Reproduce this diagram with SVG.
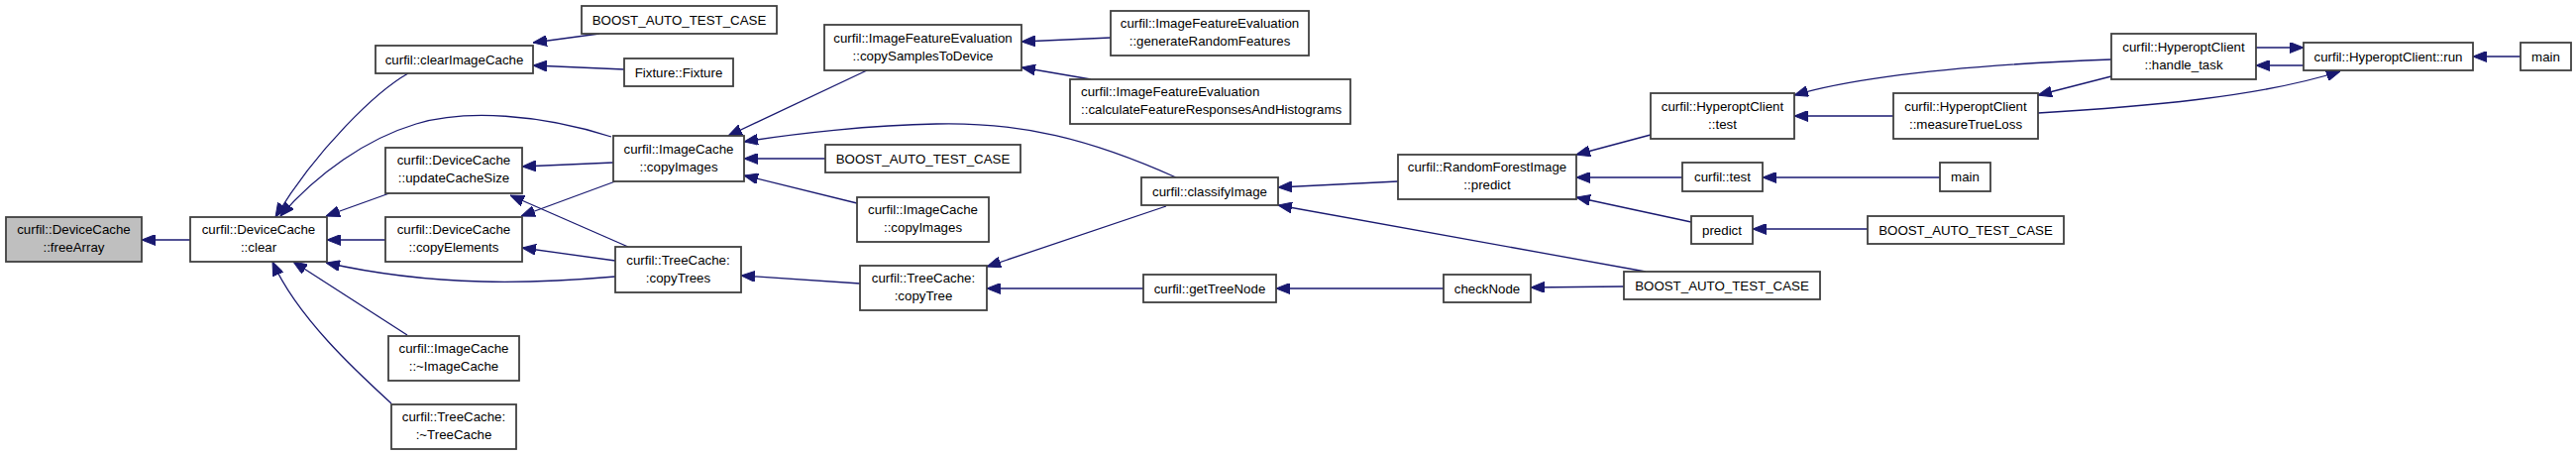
<svg xmlns="http://www.w3.org/2000/svg" width="2600" height="459" viewBox="0 0 2600 459">
<style>
.n rect{fill:#fff;stroke:#404040;stroke-width:1.8}
.n text{font-family:"Liberation Sans",Arial,sans-serif;font-size:13.3px;fill:#000;text-anchor:middle}
.n text.l{text-anchor:start}
.root rect{fill:#bfbfbf}
#edges path{fill:none;stroke:#191970;stroke-width:1.3;marker-end:url(#ah)}
</style>
<defs>
<marker id="ah" viewBox="0 0 14 11" refX="14" refY="5.5" markerWidth="14" markerHeight="11" markerUnits="userSpaceOnUse" orient="auto">
<path d="M0,0 L14,5.5 L0,11 z" fill="#191970" stroke="#191970" stroke-width="1"/>
</marker>
</defs>
<rect width="2600" height="459" fill="#fff"/>
<g id="edges">
<path d="M192,242 L143,242"/>
<path d="M412,74 C380,92 320,150 278,219"/>
<path d="M605,34 L538,43"/>
<path d="M630,70 L538,66"/>
<path d="M617,138 C545,115 470,110 420,125 C370,140 320,175 283,218"/>
<path d="M393,195 L329,218"/>
<path d="M389,242 L330,242"/>
<path d="M621,279 C540,286 440,290 329,265"/>
<path d="M411,338 L296,264"/>
<path d="M395,407 C360,375 300,320 275,264"/>
<path d="M619,164 L527,168"/>
<path d="M634,249 L515,197"/>
<path d="M621,183 L526,218"/>
<path d="M621,263 L527,250"/>
<path d="M875,71 L735,137"/>
<path d="M833,160 L751,160"/>
<path d="M865,205 L751,177"/>
<path d="M1187,179 C1100,140 1030,123 945,125 C880,126 800,135 751,143"/>
<path d="M868,286 L748,278"/>
<path d="M1121,38 L1031,42"/>
<path d="M1101,80 L1031,68"/>
<path d="M1177,208 L996,269"/>
<path d="M1154,291 L996,291"/>
<path d="M1411,183 L1290,189"/>
<path d="M1661,274 L1290,207"/>
<path d="M1457,291 L1288,291"/>
<path d="M1666,136 L1591,156"/>
<path d="M1698,179 L1591,179"/>
<path d="M1707,224 L1591,199"/>
<path d="M1639,289 L1545,290"/>
<path d="M1911,117 L1811,117"/>
<path d="M1958,179 L1779,179"/>
<path d="M1885,231 L1769,231"/>
<path d="M2131,60 C2050,63 1900,70 1811,96"/>
<path d="M2131,77 L2057,96"/>
<path d="M2057,114 C2160,108 2280,98 2362,72"/>
<path d="M2277,48 L2325,48"/>
<path d="M2325,66 L2277,66"/>
<path d="M2544,57 L2496,57"/>
</g>
<g id="n0" class="n root"><rect x="6" y="219" width="137" height="45"/><text x="74.5" y="236">curfil::DeviceCache</text><text x="74.5" y="254">::freeArray</text></g>
<g id="n1" class="n"><rect x="192" y="219" width="138" height="45"/><text x="261" y="236">curfil::DeviceCache</text><text x="261" y="254">::clear</text></g>
<g id="n2" class="n"><rect x="379" y="46" width="159" height="28"/><text x="458.5" y="65">curfil::clearImageCache</text></g>
<g id="n3" class="n"><rect x="587" y="6" width="197" height="28"/><text x="685.5" y="25">BOOST_AUTO_TEST_CASE</text></g>
<g id="n4" class="n"><rect x="630" y="59" width="110" height="28"/><text x="685" y="78">Fixture::Fixture</text></g>
<g id="n5" class="n"><rect x="389" y="149" width="138" height="46"/><text x="458" y="166">curfil::DeviceCache</text><text x="458" y="184">::updateCacheSize</text></g>
<g id="n6" class="n"><rect x="389" y="219" width="138" height="45"/><text x="458" y="236">curfil::DeviceCache</text><text x="458" y="254">::copyElements</text></g>
<g id="n7" class="n"><rect x="619" y="137" width="132" height="46"/><text x="685" y="155">curfil::ImageCache</text><text x="685" y="173">::copyImages</text></g>
<g id="n8" class="n"><rect x="621" y="249" width="127" height="46"/><text x="684.5" y="267">curfil::TreeCache:</text><text x="684.5" y="285">:copyTrees</text></g>
<g id="n9" class="n"><rect x="392" y="339" width="132" height="45"/><text x="458" y="356">curfil::ImageCache</text><text x="458" y="374">::~ImageCache</text></g>
<g id="n10" class="n"><rect x="395" y="408" width="126" height="45"/><text x="458" y="425">curfil::TreeCache:</text><text x="458" y="443">:~TreeCache</text></g>
<g id="n11" class="n"><rect x="832" y="25" width="199" height="46"/><text x="931.5" y="43">curfil::ImageFeatureEvaluation</text><text x="931.5" y="61">::copySamplesToDevice</text></g>
<g id="n12" class="n"><rect x="833" y="146" width="197" height="28"/><text x="931.5" y="165">BOOST_AUTO_TEST_CASE</text></g>
<g id="n13" class="n"><rect x="865" y="199" width="133" height="45"/><text x="931.5" y="216">curfil::ImageCache</text><text x="931.5" y="234">::copyImages</text></g>
<g id="n14" class="n"><rect x="868" y="268" width="128" height="45"/><text x="932" y="285">curfil::TreeCache:</text><text x="932" y="303">:copyTree</text></g>
<g id="n15" class="n"><rect x="1121" y="11" width="200" height="45"/><text x="1221" y="28">curfil::ImageFeatureEvaluation</text><text x="1221" y="46">::generateRandomFeatures</text></g>
<g id="n16" class="n"><rect x="1080" y="80" width="283" height="45"/><text class="l" x="1091" y="97">curfil::ImageFeatureEvaluation</text><text class="l" x="1091" y="115">::calculateFeatureResponsesAndHistograms</text></g>
<g id="n17" class="n"><rect x="1152" y="179" width="138" height="28"/><text x="1221" y="198">curfil::classifyImage</text></g>
<g id="n18" class="n"><rect x="1154" y="277" width="134" height="28"/><text x="1221" y="296">curfil::getTreeNode</text></g>
<g id="n19" class="n"><rect x="1411" y="156" width="180" height="45"/><text x="1501" y="173">curfil::RandomForestImage</text><text x="1501" y="191">::predict</text></g>
<g id="n20" class="n"><rect x="1666" y="94" width="145" height="46"/><text x="1738.5" y="112">curfil::HyperoptClient</text><text x="1738.5" y="130">::test</text></g>
<g id="n21" class="n"><rect x="1698" y="164" width="81" height="29"/><text x="1738.5" y="183">curfil::test</text></g>
<g id="n22" class="n"><rect x="1707" y="218" width="62" height="28"/><text x="1738" y="237">predict</text></g>
<g id="n23" class="n"><rect x="1457" y="277" width="88" height="28"/><text x="1501" y="296">checkNode</text></g>
<g id="n24" class="n"><rect x="1639" y="274" width="198" height="28"/><text x="1738" y="293">BOOST_AUTO_TEST_CASE</text></g>
<g id="n25" class="n"><rect x="1911" y="94" width="146" height="46"/><text x="1984" y="112">curfil::HyperoptClient</text><text x="1984" y="130">::measureTrueLoss</text></g>
<g id="n26" class="n"><rect x="1958" y="164" width="51" height="29"/><text x="1983.5" y="183">main</text></g>
<g id="n27" class="n"><rect x="1885" y="218" width="198" height="28"/><text x="1984" y="237">BOOST_AUTO_TEST_CASE</text></g>
<g id="n28" class="n"><rect x="2131" y="34" width="146" height="46"/><text x="2204" y="52">curfil::HyperoptClient</text><text x="2204" y="70">::handle_task</text></g>
<g id="n29" class="n"><rect x="2325" y="43" width="171" height="28"/><text x="2410.5" y="62">curfil::HyperoptClient::run</text></g>
<g id="n30" class="n"><rect x="2544" y="43" width="51" height="28"/><text x="2569.5" y="62">main</text></g>
</svg>
